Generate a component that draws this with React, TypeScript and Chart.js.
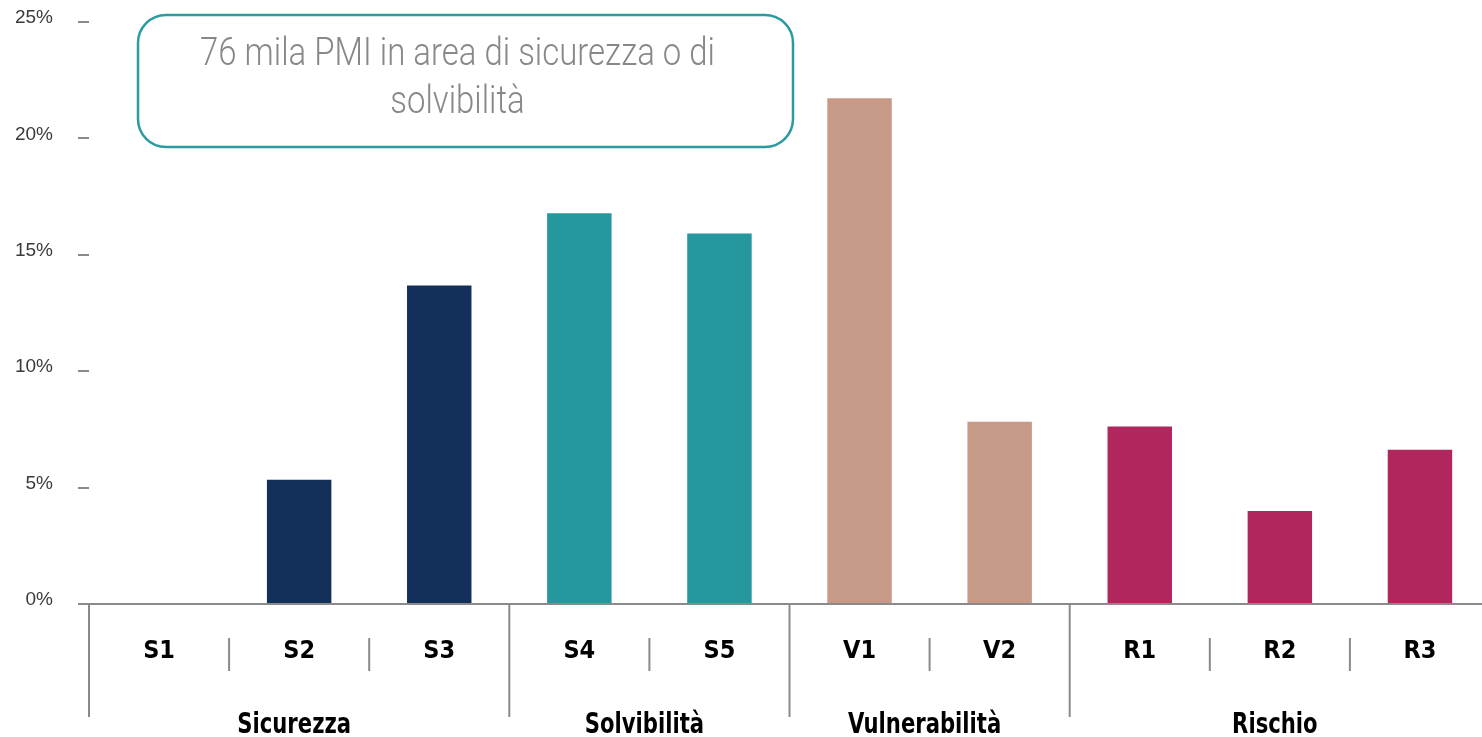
import React, { useEffect, useRef } from "react";
import { Chart, registerables } from "chart.js";

Chart.register(...registerables);

const categories = ["S1", "S2", "S3", "S4", "S5", "V1", "V2", "R1", "R2", "R3"];
const values = [0, 5.34, 13.68, 16.78, 15.92, 21.73, 7.83, 7.62, 4.0, 6.63];
const barColors = [
  "#12305A", "#12305A", "#12305A",
  "#25979F", "#25979F",
  "#C69A87", "#C69A87",
  "#B0265D", "#B0265D", "#B0265D",
];
const groups = ["Sicurezza", "Solvibilità", "Vulnerabilità", "Rischio"];
const groupStarts = [0, 3, 5, 7];
const groupSizes = [3, 2, 2, 3];
const yTicks = [0, 5, 10, 15, 20, 25];
const annotationLines = ["76 mila PMI in area di sicurezza o di", "solvibilità"];

const COND = "'DejaVu Sans Condensed', 'Liberation Sans', sans-serif";
const GRAY = "#8a8a8a";

const groupPlugin = {
  id: "groupPlugin",
  afterDraw(chart: any) {
    const { ctx, scales } = chart;
    const x = scales.x;
    const half = (x.getPixelForValue(1) - x.getPixelForValue(0)) / 2;
    const top = chart.chartArea.bottom;
    ctx.save();
    ctx.strokeStyle = GRAY;
    ctx.lineWidth = 2;
    // separators
    for (let i = 0; i < categories.length; i++) {
      const px = x.getPixelForValue(i) - half;
      const isGroupStart = groupStarts.indexOf(i) >= 0;
      ctx.beginPath();
      if (isGroupStart) {
        ctx.moveTo(px, top);
        ctx.lineTo(px, top + 113);
      } else {
        ctx.moveTo(px, top + 34);
        ctx.lineTo(px, top + 67);
      }
      ctx.stroke();
    }
    // group labels (condensed horizontally)
    ctx.fillStyle = "#000";
    ctx.font = `bold 28px ${COND}`;
    ctx.textAlign = "center";
    ctx.textBaseline = "alphabetic";
    const gsx = 0.84;
    groups.forEach((g, gi) => {
      const s = groupStarts[gi];
      const e = s + groupSizes[gi] - 1;
      const cx = (x.getPixelForValue(s) + x.getPixelForValue(e)) / 2;
      ctx.save();
      ctx.translate(cx - 5, top + 129);
      ctx.scale(gsx, 1);
      ctx.fillText(g, 0, 0);
      ctx.restore();
    });
    // annotation box
    const bx = 138, by = 15, bw = 655, bh = 132, r = 28;
    ctx.beginPath();
    ctx.moveTo(bx + r, by);
    ctx.lineTo(bx + bw - r, by);
    ctx.arcTo(bx + bw, by, bx + bw, by + r, r);
    ctx.lineTo(bx + bw, by + bh - r);
    ctx.arcTo(bx + bw, by + bh, bx + bw - r, by + bh, r);
    ctx.lineTo(bx + r, by + bh);
    ctx.arcTo(bx, by + bh, bx, by + bh - r, r);
    ctx.lineTo(bx, by + r);
    ctx.arcTo(bx, by, bx + r, by, r);
    ctx.closePath();
    ctx.fillStyle = "#ffffff";
    ctx.fill();
    ctx.strokeStyle = "#2A9BA1";
    ctx.lineWidth = 2.5;
    ctx.stroke();
    ctx.fillStyle = "#888888";
    ctx.font = `300 39px Roboto, 'Liberation Sans', sans-serif`;
    ctx.textAlign = "center";
    const w0 = ctx.measureText(annotationLines[0]).width;
    const asx = Math.min(1, 515 / w0);
    [65, 113].forEach((yy, li) => {
      ctx.save();
      ctx.translate(bx + bw / 2 - 8, yy);
      ctx.scale(asx, 1);
      ctx.fillText(annotationLines[li], 0, 0);
      ctx.restore();
    });
    ctx.restore();
  },
};

export default function App() {
  const ref = useRef<HTMLCanvasElement | null>(null);
  useEffect(() => {
    if (!ref.current) return;
    const chart = new Chart(ref.current, {
      type: "bar",
      data: {
        labels: categories,
        datasets: [
          {
            data: values,
            backgroundColor: barColors,
            borderWidth: 0,
            categoryPercentage: 1,
            barPercentage: 0.46,
          },
        ],
      },
      options: {
        responsive: false,
        animation: false,
        devicePixelRatio: 1,
        layout: { autoPadding: false, padding: { top: 22, right: 10, left: 0, bottom: 0 } },
        plugins: {
          legend: { display: false },
          tooltip: { enabled: false },
          title: { display: false },
        },
        scales: {
          x: {
            grid: { display: false, drawTicks: false },
            border: { display: true, color: GRAY, width: 2 },
            ticks: {
              color: "#000",
              font: { family: COND, size: 25, weight: "bold" },
              padding: 32,
              maxRotation: 0,
              autoSkip: false,
            },
            afterFit: (s: any) => {
              s.height = 133;
              s.paddingLeft = 0;
              s.paddingRight = 0;
            },
          },
          y: {
            min: 0,
            max: 25,
            afterBuildTicks: (s: any) => {
              s.ticks = yTicks.map((v) => ({ value: v }));
            },
            grid: {
              drawOnChartArea: false,
              drawTicks: true,
              tickLength: 11,
              color: GRAY,
              lineWidth: 2,
            },
            border: { display: false },
            ticks: {
              color: "#3a3a3a",
              font: { family: "'Liberation Sans', Arial, sans-serif", size: 19 },
              padding: 25,
              labelOffset: -4,
              callback: (v: any) => `${v}%`,
            },
            afterFit: (s: any) => {
              s.width = 89;
              s.paddingTop = 0;
              s.paddingBottom = 0;
            },
          },
        },
      },
      plugins: [groupPlugin],
    });
    return () => chart.destroy();
  }, []);
  return (
    <div
      style={{
        position: "fixed",
        left: 0,
        top: 0,
        width: 1482,
        height: 737,
        overflow: "hidden",
        background: "#fff",
      }}
    >
      <canvas ref={ref} width={1500} height={737} style={{ width: 1500, height: 737, display: "block" }} />
    </div>
  );
}
